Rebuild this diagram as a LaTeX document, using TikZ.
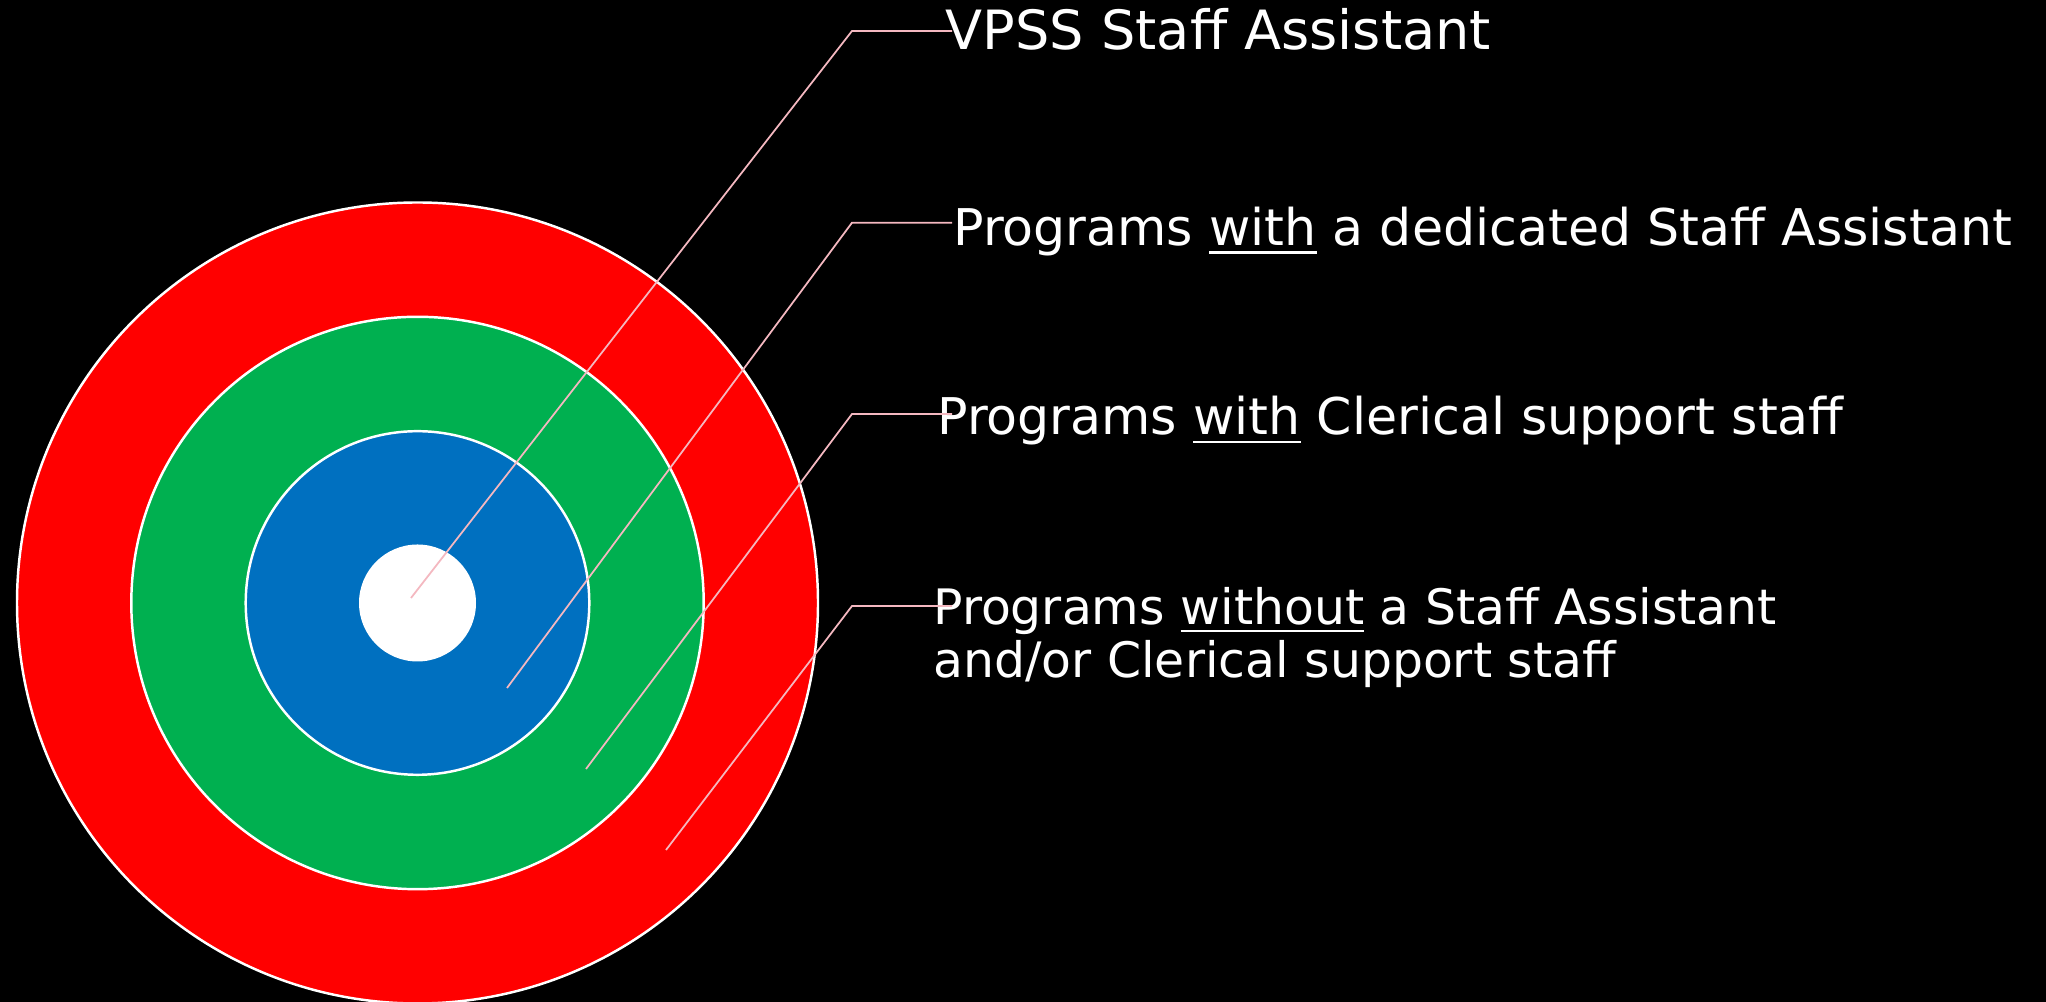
\documentclass[tikz,border=0pt]{standalone}
\usepackage{xcolor}
\usepackage{fontspec}
\setmainfont{DejaVu Sans}
\usepackage{tikz}

\definecolor{ringred}{RGB}{255,0,0}
\definecolor{ringgreen}{RGB}{0,176,80}
\definecolor{ringblue}{RGB}{0,112,192}
\definecolor{leaderpink}{RGB}{244,184,192}

\newsavebox{\ulbox}
\newcommand{\ulword}[1]{\sbox\ulbox{#1}\rlap{\rule[-2.4pt]{\wd\ulbox}{0.8pt}}\usebox\ulbox}

\tikzset{
  ring/.style={circle, draw=white, line width=0.7pt, inner sep=0pt},
  leader/.style={draw=leaderpink, line width=0.5pt},
  tag/.style={text=white, inner sep=0pt, anchor=base west, align=left,
    font=\fontsize{14.4}{15.1}\selectfont}
}

\begin{document}
\begin{tikzpicture}
\fill[black] (0,0) rectangle (20.46,10.02);
\useasboundingbox (0,0) rectangle (20.46,10.02);

\coordinate (c) at (4.175,3.99);
\node[ring, fill=ringred, minimum size=8.01cm] (outer) at (c) {};
\node[ring, fill=ringgreen, minimum size=5.724cm] (middle) at (c) {};
\node[ring, fill=ringblue, minimum size=3.436cm] (inner) at (c) {};
\node[circle, fill=white, inner sep=0pt, minimum size=1.17cm] (core) at (c) {};

\node[tag, font=\fontsize{15.4}{17}\selectfont] (lab1) at (9.45,9.52) {VPSS Staff Assistant};
\node[tag] (lab2) at (9.527,7.565) {Programs \ulword{with} a dedicated Staff Assistant};
\node[tag] (lab3) at (9.367,5.67) {Programs \ulword{with} Clerical support staff};
\node[tag, font=\fontsize{13.9}{15.1}\selectfont] (lab4) at (9.327,3.249) {Programs \ulword{without} a Staff Assistant\\and/or Clerical support staff};

\coordinate (s1) at (4.11,4.04);
\coordinate (s2) at (5.07,3.14);
\coordinate (s3) at (5.86,2.33);
\coordinate (s4) at (6.66,1.52);
\coordinate (b1) at (8.52,9.71);
\coordinate (b2) at (8.52,7.793);
\coordinate (b3) at (8.52,5.88);
\coordinate (b4) at (8.52,3.96);
\coordinate (e1) at (9.52,9.71);
\coordinate (e2) at (9.52,7.793);
\coordinate (e3) at (9.52,5.88);
\coordinate (e4) at (9.52,3.96);

\draw[leader] (s1) -- (b1) -- (e1);
\draw[leader] (s2) -- (b2) -- (e2);
\draw[leader] (s3) -- (b3) -- (e3);
\draw[leader] (s4) -- (b4) -- (e4);
\end{tikzpicture}
\end{document}
